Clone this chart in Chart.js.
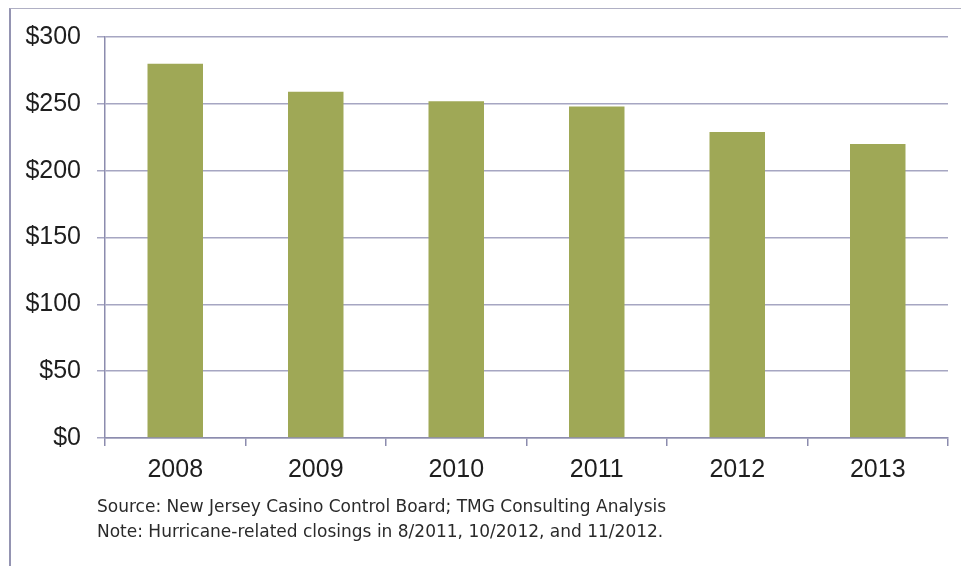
<!DOCTYPE html>
<html>
<head>
<meta charset="utf-8">
<script src="https://cdn.jsdelivr.net/npm/chart.js@4"></script>
<style>
  html, body { margin: 0; padding: 0; background: #fff; }
  body { width: 961px; height: 566px; position: relative; overflow: hidden; }
  #frame { position: absolute; left: 9px; top: 8px; right: 0; bottom: 0;
           border-top: 1.5px solid #b0b0c4; border-left: 2px solid #9494b2; }
  #wrap { position: absolute; left: 0; top: 0; width: 961px; height: 566px; }
  #notes { position: absolute; left: 97px; top: 494px; font-family: "DejaVu Sans", sans-serif;
           font-size: 17px; line-height: 25px; color: #2a2a2a; white-space: nowrap; }
</style>
</head>
<body>
<div id="frame"></div>
<div id="wrap"><canvas id="c" width="961" height="566"></canvas></div>
<div id="notes">
  <div>Source: New Jersey Casino Control Board; TMG Consulting Analysis</div>
  <div>Note: Hurricane-related closings in 8/2011, 10/2012, and 11/2012.</div>
</div>
<script>
// Annual values, in $ millions
const years = ['2008', '2009', '2010', '2011', '2012', '2013'];
const revenue = [280, 259, 252, 248, 229, 220];
const yMin = 0;
const yMax = 300;
const yStep = 50;

const axisColor = '#8c8cae';
const gridColor = '#a6a6c2';
const textColor = '#1e1e1e';

new Chart(document.getElementById('c'), {
  type: 'bar',
  data: {
    labels: years,
    datasets: [{
      data: revenue,
      backgroundColor: '#9fa856',
      borderWidth: 0,
      barPercentage: 0.79,
      categoryPercentage: 0.5
    }]
  },
  options: {
    responsive: false,
    animation: false,
    layout: { padding: { left: 0, right: 13, top: 37, bottom: 0 } },
    plugins: { legend: { display: false }, tooltip: { enabled: false } },
    scales: {
      x: {
        grid: { drawOnChartArea: false, drawTicks: true, tickLength: 8, color: axisColor, lineWidth: 1.5 },
        border: { color: axisColor, width: 1.5 },
        ticks: { color: textColor, font: { family: 'Liberation Sans', size: 25 }, padding: 9 },
        afterFit: (s) => { s.height = 128; }
      },
      y: {
        min: yMin,
        max: yMax,
        grid: { color: gridColor, lineWidth: 1.5, tickLength: 8 },
        border: { color: axisColor, width: 1.5 },
        ticks: {
          stepSize: yStep,
          color: textColor,
          font: { family: 'Liberation Sans', size: 25 },
          padding: 16,
          callback: (v) => '$' + v
        },
        afterFit: (s) => { s.width = 105; }
      }
    }
  }
});
</script>
</body>
</html>
